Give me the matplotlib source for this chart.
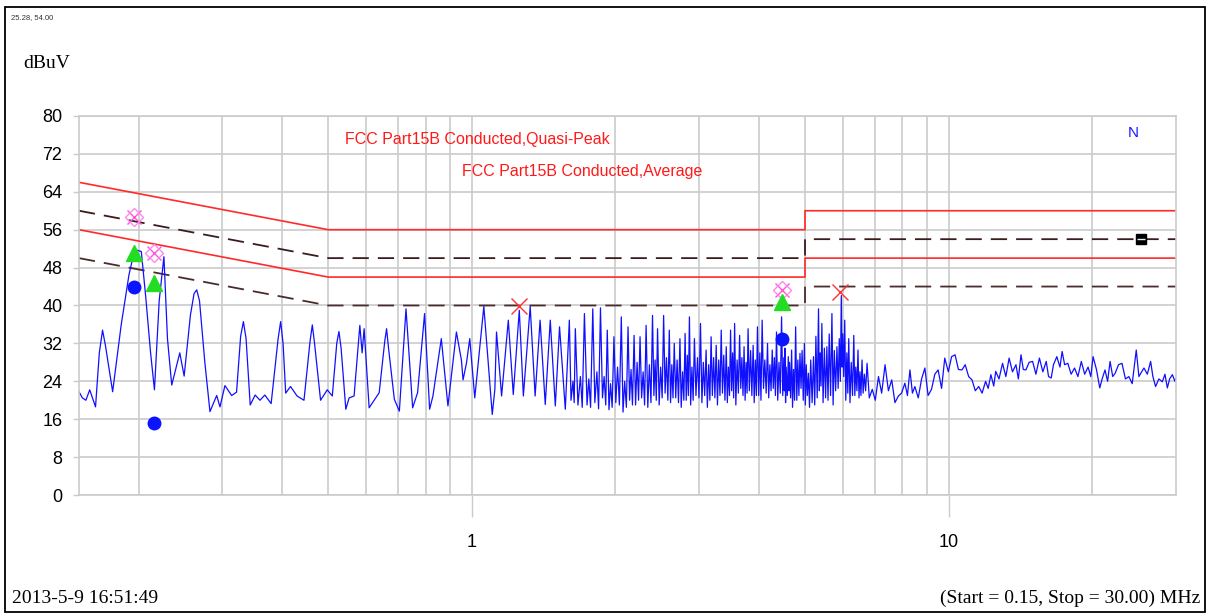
import matplotlib
matplotlib.use("Agg")
import matplotlib.pyplot as plt
from matplotlib.patches import Rectangle

# limit lines (MHz, dBuV)
qp_mhz = [0.15, 0.5, 0.5, 5, 5, 30]
qp_limit = [66, 56, 56, 56, 60, 60]
avg_limit = [56, 46, 46, 46, 50, 50]
qp_margin = [60, 50, 50, 50, 54, 54]
avg_margin = [50, 40, 40, 40, 44, 44]

# measured trace, 0.15 - 1.6 MHz
low_mhz = [
    0.150, 0.1525, 0.1551, 0.158, 0.1625, 0.1655, 0.1681, 0.1705, 0.1765, 0.184,
    0.191, 0.1955, 0.1978, 0.2027, 0.207, 0.212, 0.216, 0.221, 0.2261, 0.230,
    0.2348, 0.2441, 0.2493, 0.257, 0.2615, 0.2649, 0.2685, 0.2755, 0.2824, 0.2917,
    0.2964, 0.3036, 0.3136, 0.3211, 0.3275, 0.3319, 0.3362, 0.3430, 0.3513, 0.3595,
    0.3681, 0.3795, 0.3925, 0.3973, 0.4020, 0.4071, 0.4167, 0.4301, 0.4447, 0.4580,
    0.4630, 0.4680, 0.4818, 0.4976, 0.5099, 0.5210, 0.5265, 0.5320, 0.5443, 0.553,
    0.5665, 0.5824, 0.5889, 0.5946, 0.6092, 0.6241, 0.6395, 0.6570, 0.6627, 0.6690,
    0.688, 0.7049, 0.7279, 0.7516, 0.7698, 0.7962, 0.8158, 0.829, 0.8632, 0.8913,
    0.9285, 0.9512, 0.9587, 0.9746, 0.9903, 1.0146, 1.060, 1.104, 1.118, 1.127,
    1.155, 1.193, 1.222, 1.258, 1.283, 1.326, 1.358, 1.391, 1.426, 1.461,
    1.497, 1.528, 1.571,
]
low_dbuv = [
    21.8, 20.5, 20.0, 22.2, 18.6, 30.0, 34.8, 31.5, 21.8, 36.0,
    46.5, 51.0, 51.7, 51.4, 42.0, 30.0, 22.2, 41.0, 50.3, 33.0,
    23.2, 30.0, 25.1, 38.0, 42.5, 43.3, 41.0, 28.0, 17.6, 21.0,
    18.6, 23.1, 21.0, 21.7, 33.5, 36.6, 33.0, 19.0, 21.1, 20.0,
    21.1, 19.3, 33.0, 36.6, 32.0, 21.5, 22.9, 20.9, 20.0, 32.5,
    35.9, 32.0, 20.0, 22.2, 20.9, 32.0, 34.5, 31.0, 18.1, 20.5,
    20.9, 35.8, 30.0, 35.1, 18.4, 20.0, 21.6, 32.5, 35.1, 31.0,
    20.2, 17.7, 39.3, 18.4, 21.6, 38.3, 18.1, 20.9, 33.0, 18.8,
    34.4, 28.5, 24.3, 27.8, 33.0, 20.5, 39.8, 17.0, 22.3, 34.4,
    20.9, 36.9, 21.2, 39.0, 20.9, 39.8, 20.9, 36.9, 19.1, 36.9,
    18.8, 35.5, 18.1,
]

# measured trace, 1.6 - 6.8 MHz (dense harmonics)
mid_mhz = [
    1.602, 1.615, 1.630, 1.640, 1.649, 1.670, 1.690, 1.705, 1.723, 1.745,
    1.760, 1.775, 1.794, 1.812, 1.830, 1.845, 1.862, 1.880, 1.895, 1.910,
    1.924, 1.940, 1.955, 1.970, 1.987, 2.005, 2.022, 2.040, 2.059, 2.076,
    2.093, 2.110, 2.127, 2.143, 2.158, 2.173, 2.190, 2.206, 2.222, 2.238,
    2.254, 2.271, 2.288, 2.304, 2.321, 2.340, 2.358, 2.376, 2.394, 2.410,
    2.424, 2.438, 2.453, 2.472, 2.490, 2.508, 2.526, 2.544, 2.561, 2.578,
    2.596, 2.612, 2.628, 2.643, 2.659, 2.678, 2.696, 2.714, 2.733, 2.750,
    2.768, 2.785, 2.802, 2.817, 2.832, 2.846, 2.861, 2.878, 2.896, 2.913,
    2.931, 2.953, 2.975, 2.996, 3.018, 3.039, 3.060, 3.080, 3.101, 3.120,
    3.140, 3.158, 3.177, 3.196, 3.216, 3.236, 3.256, 3.276, 3.296, 3.316,
    3.336, 3.356, 3.377, 3.397, 3.418, 3.436, 3.454, 3.472, 3.490, 3.508,
    3.525, 3.542, 3.559, 3.580, 3.602, 3.624, 3.646, 3.666, 3.686, 3.706,
    3.725, 3.744, 3.762, 3.780, 3.798, 3.821, 3.845, 3.868, 3.892, 3.912,
    3.933, 3.953, 3.974, 3.997, 4.020, 4.042, 4.065, 4.092, 4.118, 4.145,
    4.172, 4.196, 4.220, 4.244, 4.268, 4.290, 4.312, 4.334, 4.357, 4.383,
    4.410, 4.437, 4.465, 4.490, 4.514, 4.526, 4.538, 4.552, 4.565, 4.590,
    4.612, 4.626, 4.640, 4.664, 4.687, 4.708, 4.730, 4.755, 4.779, 4.805,
    4.830, 4.855, 4.880, 4.905, 4.930, 4.958, 4.985, 5.008, 5.030, 5.056,
    5.083, 5.110, 5.140, 5.175, 5.209, 5.240, 5.270, 5.303, 5.337, 5.358,
    5.380, 5.402, 5.424, 5.456, 5.490, 5.523, 5.557, 5.588, 5.620, 5.657,
    5.694, 5.727, 5.760, 5.797, 5.834, 5.867, 5.900, 5.930, 5.958, 5.980,
    6.000, 6.028, 6.057, 6.088, 6.120, 6.148, 6.176, 6.213, 6.250, 6.290,
    6.328, 6.360, 6.390, 6.425, 6.458, 6.490, 6.520, 6.552, 6.585, 6.620,
    6.660, 6.700, 6.747, 6.820,
]
mid_dbuv = [
    36.9, 20.0, 24.0, 19.5, 35.1, 19.0, 25.0, 18.5, 38.3, 19.0,
    24.5, 18.5, 39.3, 19.5, 26.0, 18.2, 39.5, 20.5, 25.0, 19.0,
    34.8, 18.0, 23.5, 18.5, 33.4, 19.5, 27.0, 19.0, 37.6, 17.5,
    24.0, 18.5, 35.5, 20.0, 26.5, 19.0, 33.7, 19.0, 28.0, 20.0,
    33.4, 20.5, 26.0, 19.0, 35.8, 18.5, 27.5, 19.5, 37.9, 21.0,
    28.5, 20.0, 35.1, 19.0, 27.0, 20.5, 37.9, 21.5, 29.0, 20.0,
    34.8, 19.5, 27.5, 20.5, 32.0, 20.5, 28.5, 19.5, 33.0, 18.5,
    26.0, 20.0, 34.1, 20.0, 29.5, 21.0, 37.6, 19.0, 27.0, 20.0,
    33.0, 21.0, 29.0, 20.5, 36.2, 19.5, 28.0, 21.0, 30.6, 18.5,
    27.5, 20.0, 33.4, 21.0, 29.0, 20.5, 31.6, 19.0, 28.5, 21.0,
    34.8, 21.5, 29.5, 20.0, 31.3, 19.5, 27.0, 21.0, 34.8, 22.0,
    30.0, 20.5, 36.2, 19.0, 28.5, 21.5, 33.7, 22.5, 29.0, 21.0,
    31.3, 20.0, 28.0, 21.5, 35.1, 22.0, 30.5, 21.0, 31.6, 19.5,
    28.5, 21.0, 35.5, 21.0, 30.0, 20.0, 36.9, 22.5, 28.5, 21.5,
    32.0, 20.5, 27.5, 22.0, 30.6, 22.5, 29.0, 21.0, 34.4, 20.0,
    28.0, 21.5, 37.6, 21.0, 29.0, 22.0, 31.0, 19.5, 27.0, 21.0,
    29.2, 22.0, 28.0, 20.5, 30.6, 18.5, 26.5, 20.0, 35.5, 20.0,
    28.5, 21.0, 29.9, 22.5, 30.5, 20.0, 32.0, 19.0, 27.5, 21.0,
    25.7, 18.5, 28.5, 19.5, 29.2, 19.0, 33.5, 20.5, 39.3, 22.0,
    30.0, 23.0, 36.2, 19.5, 31.0, 20.5, 31.3, 20.0, 34.0, 21.0,
    38.3, 19.0, 30.5, 22.0, 31.3, 22.5, 33.0, 24.0, 42.1, 27.0,
    34.0, 25.0, 36.9, 20.0, 30.0, 21.5, 33.0, 19.5, 28.0, 21.0,
    33.7, 21.0, 27.0, 22.0, 30.6, 20.5, 26.0, 21.0, 28.5, 21.5,
    25.5, 22.0, 27.8, 20.5,
]

# measured trace, 6.9 - 30 MHz
high_mhz = [
    6.92, 7.02, 7.13, 7.24, 7.36, 7.48, 7.60, 7.72, 7.85, 7.97, 8.10, 8.20, 8.30,
    8.40, 8.50, 8.64, 8.78, 8.92, 9.06, 9.21, 9.36, 9.51, 9.67, 9.82, 9.99, 10.15,
    10.32, 10.49, 10.67, 10.84, 11.02, 11.20, 11.38, 11.57, 11.76, 11.96, 12.11,
    12.27, 12.44, 12.56, 12.76, 12.98, 13.19, 13.40, 13.62, 13.85, 14.01, 14.19,
    14.35, 14.53, 14.76, 15.01, 15.25, 15.51, 15.77, 16.03, 16.21, 16.42, 16.60,
    16.87, 17.13, 17.31, 17.52, 17.79, 18.08, 18.38, 18.68, 18.99, 19.30, 19.62,
    19.88, 20.10, 20.43, 20.76, 21.00, 21.29, 21.56, 21.82, 22.10, 22.36, 22.73,
    23.11, 23.50, 23.89, 24.28, 24.76, 25.08, 25.41, 25.70, 26.12, 26.54, 26.83,
    27.18, 27.62, 28.08, 28.44, 28.77, 29.09, 29.48, 29.84, 30.0,
]
high_dbuv = [
    22.3, 20.0, 25.0, 21.5, 27.5, 22.0, 24.3, 19.5, 20.9, 21.5, 23.6, 21.0, 26.4,
    21.5, 22.9, 20.5, 24.5, 26.8, 21.0, 22.3, 25.5, 26.4, 22.5, 28.9, 26.0, 29.2,
    29.6, 26.5, 26.4, 27.5, 25.0, 24.3, 22.0, 22.9, 21.5, 24.0, 22.5,
    25.4, 23.0, 26.1, 24.5, 27.8, 25.0, 28.9, 26.0, 27.5, 24.5, 29.6,
    26.5, 26.4, 28.0, 28.2, 25.5, 28.9, 26.0, 28.2, 25.0, 24.7, 27.5,
    29.2, 27.0, 30.3, 27.5, 27.8, 25.5, 26.8, 25.0, 28.2, 25.5, 27.0,
    25.0, 29.2, 26.5, 22.6, 24.5, 26.4, 24.0, 28.2, 25.0, 25.7, 27.5,
    27.8, 24.5, 25.0, 23.5, 30.6, 25.0, 26.0, 26.8, 25.5, 28.2, 25.0,
    22.9, 24.5, 23.9, 25.5, 22.6, 24.5, 25.4, 24.0, 24.7,
]

# final measurement points
qp_pk_mhz = [0.1955, 0.2154, 4.465]
qp_pk_dbuv = [58.7, 51.1, 43.3]
over_mhz = [1.256, 5.93]
over_dbuv = [39.9, 42.9]
qp_val_dbuv = [51.1, 44.7, 40.8]
avg_val_dbuv = [43.8, 15.1, 32.9]
cursor_mhz = [25.28]
cursor_dbuv = [54.00]

fig = plt.figure(figsize=(12.11, 6.14), dpi=100)
ax = fig.add_axes([0.0652, 0.1938, 0.9059, 0.6173])

grid_c = '#cbcbcb'
ax.set_xscale('log')
ax.set_xlim(0.15, 30)
ax.set_ylim(0, 80)
ax.set_yticks(range(0, 81, 8))
ax.set_xticks([1, 10])
ax.set_xticklabels(['1', '10'])
ax.set_xticks([0.2, 0.3, 0.4, 0.5, 0.6, 0.7, 0.8, 0.9, 2, 3, 4, 5, 6, 7, 8, 9, 20], minor=True)
ax.grid(True, which='both', color=grid_c, lw=1.2)
ax.set_axisbelow(True)
for s in ax.spines.values():
    s.set_color(grid_c)
    s.set_linewidth(1.2)
ax.tick_params(axis='x', which='major', length=16, color=grid_c, width=1, pad=12,
               labelsize=13)
ax.tick_params(axis='x', which='minor', length=0)
ax.tick_params(axis='y', length=4, color=grid_c, width=1, pad=8, labelsize=13)
for lab in ax.get_xticklabels() + ax.get_yticklabels():
    lab.set_family('Liberation Sans')

ax.plot(qp_mhz, qp_limit, color='#ff2a2a', lw=1.2)
ax.plot(qp_mhz, avg_limit, color='#ff2a2a', lw=1.2)
ax.plot(qp_mhz, qp_margin, color='#3a1c1c', lw=1.3, dashes=(9, 5))
ax.plot(qp_mhz, avg_margin, color='#4a2c2c', lw=1.3, dashes=(9, 5))

trace_mhz = low_mhz + mid_mhz + high_mhz
trace_dbuv = low_dbuv + mid_dbuv + high_dbuv
ax.plot(trace_mhz, trace_dbuv, color='#1010ff', lw=0.9)

ax.plot(qp_pk_mhz, qp_pk_dbuv, ls='none', marker='x', ms=10, mew=1, color='#ff55dd')
ax.plot(qp_pk_mhz, qp_pk_dbuv, ls='none', marker='D', ms=9, mew=1, mfc='none', mec='#ff88ee')
ax.plot(over_mhz, over_dbuv, ls='none', marker='x', ms=11, mew=1, color='#ff3030')
ax.plot(qp_pk_mhz, qp_val_dbuv, ls='none', marker='^', ms=11, color='#22dd22', zorder=5)
ax.plot(qp_pk_mhz, avg_val_dbuv, ls='none', marker='o', ms=9, color='#0a14ff', zorder=5)
ax.plot(cursor_mhz, cursor_dbuv, ls='none', marker='s', ms=7, color='black', zorder=6)
ax.plot(cursor_mhz, cursor_dbuv, ls='none', marker='_', ms=6, mew=1, color='#ddeeff', zorder=7)

fig.text(0.2849, 0.772, 'FCC Part15B Conducted,Quasi-Peak', color='#ff1a1a',
         fontsize=11.5, family='Liberation Sans', va='center')
fig.text(0.3815, 0.7199, 'FCC Part15B Conducted,Average', color='#ff1a1a',
         fontsize=11.5, family='Liberation Sans', va='center')
fig.text(0.9315, 0.7834, 'N', color='#1a1aff', fontsize=11, family='Liberation Sans',
         va='center')
fig.text(0.019, 0.8958, 'dBuV', fontsize=14, family='Liberation Serif', va='center')
fig.text(0.009, 0.9707, '25.28, 54.00', fontsize=5.5, family='Liberation Sans',
         va='center', color='#333333')
fig.text(0.0099, 0.026, '2013-5-9 16:51:49', fontsize=14, family='Liberation Serif',
         va='center')
fig.text(0.9909, 0.026, '(Start = 0.15, Stop = 30.00) MHz', fontsize=14,
         family='Liberation Serif', va='center', ha='right')

fig.patches.append(Rectangle((0.0045, 0.003), 0.9905, 0.9856, transform=fig.transFigure,
                             fill=False, ec='black', lw=1.3))

fig.savefig('out.png', dpi=100)
